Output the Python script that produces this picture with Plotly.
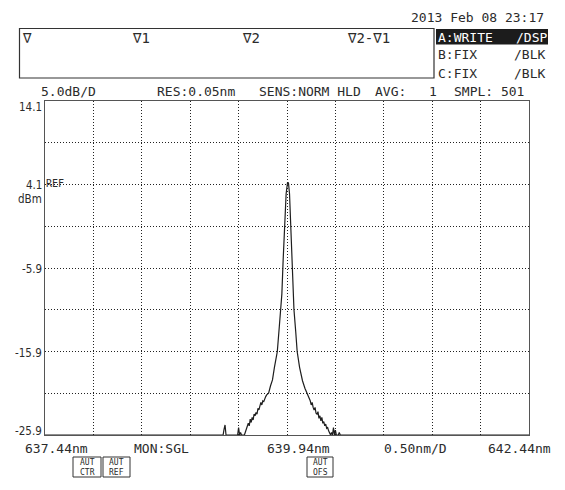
import plotly.graph_objects as go

# ---------------- data ----------------
wavelength_nm = [
    637.44, 639.28, 639.29, 639.30, 639.31, 639.43, 639.44, 639.45, 639.46, 639.47,
    639.50, 639.51, 639.52, 639.53, 639.54, 639.55, 639.56, 639.57, 639.58, 639.59,
    639.60, 639.61, 639.62, 639.63, 639.64, 639.65, 639.66, 639.67, 639.68, 639.69,
    639.70, 639.71, 639.72, 639.73, 639.75, 639.77, 639.79, 639.81, 639.83, 639.84,
    639.86, 639.873, 639.887, 639.90, 639.914, 639.921, 639.931, 639.945, 639.955, 639.966,
    639.973, 639.980, 639.993, 640.005, 640.012, 640.03, 640.045, 640.07, 640.10, 640.125,
    640.15, 640.17, 640.18, 640.19, 640.20, 640.21, 640.22, 640.23, 640.24, 640.25,
    640.26, 640.27, 640.28, 640.29, 640.30, 640.31, 640.32, 640.33, 640.34, 640.35,
    640.36, 640.37, 640.38, 640.39, 640.40, 640.41, 640.42, 640.43, 640.44, 640.45,
    640.47, 640.48, 640.49, 642.44,
]
power_dbm = [
    -25.9, -25.9, -25.2, -24.7, -25.9, -25.9, -25.0, -25.9, -25.6, -25.9,
    -25.9, -25.5, -25.2, -25.0, -24.5, -24.8, -24.0, -24.4, -23.8, -24.1,
    -23.4, -23.6, -23.2, -23.4, -22.7, -22.9, -22.4, -22.0, -22.3, -21.8,
    -21.9, -21.5, -21.3, -21.1, -20.9, -20.0, -19.3, -17.8, -16.5, -15.9,
    -13.0, -10.9, -9.0, -5.0, -1.0, 1.0, 3.0, 4.3, 4.3, 3.0,
    1.0, -1.0, -5.0, -9.0, -10.9, -13.5, -15.9, -17.8, -19.4, -20.3,
    -20.9, -21.5, -21.8, -22.3, -22.0, -22.6, -22.9, -22.6, -23.3, -23.4,
    -23.1, -23.9, -23.6, -24.2, -23.8, -24.5, -24.3, -24.8, -24.6, -25.1,
    -25.0, -25.4, -25.6, -25.9, -25.6, -25.9, -25.0, -25.9, -25.3, -25.9,
    -25.9, -25.6, -25.9, -25.9,
]

x_start, x_stop, x_div = 637.44, 642.44, 0.5
y_top, y_bottom, y_div = 14.1, -25.9, 5.0

y_label_values = [14.1, 4.1, -5.9, -15.9, -25.9]
y_label_texts = ["14.1", "4.1", "-5.9", "-15.9", "-25.9"]
x_label_texts = ["637.44nm", "639.94nm", "642.44nm"]

date_text = "2013 Feb 08 23:17"
marker_texts = ["∇", "∇1", "∇2", "∇2-∇1"]
header_texts = ["5.0dB/D", "RES:0.05nm", "SENS:NORM HLD", "AVG:", "1", "SMPL: 501"]
trace_texts = [("A:WRITE", "/DSP"), ("B:FIX", "/BLK"), ("C:FIX", "/BLK")]
footer_texts = ["MON:SGL", "0.50nm/D"]
button_texts = [("AUT", "CTR"), ("AUT", "REF"), ("AUT", "OFS")]

# ---------------- layout helpers (pixel -> paper) ----------------
W, H = 565, 490
ML, MR, MT, MB = 45, 36, 101, 55
PW, PH = W - ML - MR, H - MT - MB


def px(x):
    return (x - ML) / PW


def py(y):
    return (H - MB - y) / PH


MONO = "DejaVu Sans Mono, Liberation Mono, monospace"
NARROW = "Liberation Sans Narrow, DejaVu Sans Condensed, Liberation Sans, sans-serif"
INK = "#2b2b2b"

fig = go.Figure()
fig.add_trace(go.Scatter(
    x=wavelength_nm, y=power_dbm, mode="lines",
    line=dict(color="#1e1e1e", width=1.2), hoverinfo="skip", showlegend=False,
))

annotations = []
shapes = []


def text(x, y, s, anchor="left", size=13, family=MONO, color=INK):
    annotations.append(dict(
        x=px(x), y=py(y), xref="paper", yref="paper", text=s, showarrow=False,
        xanchor=anchor, yanchor="middle", font=dict(family=family, size=size, color=color),
        borderpad=0,
    ))


# date
text(545, 17, date_text, anchor="right")

# marker box
shapes.append(dict(type="rect", xref="paper", yref="paper",
                   x0=px(19.5), x1=px(434), y0=py(28.5), y1=py(78),
                   line=dict(color="#333", width=1.2)))
for xm, s in zip([21, 131, 241, 346], marker_texts):
    text(xm, 38, s, size=14)

# trace status panel
shapes.append(dict(type="rect", xref="paper", yref="paper",
                   x0=px(436), x1=px(548), y0=py(29), y1=py(44.5),
                   line=dict(width=0), fillcolor="#1c1c1c"))
for i, ((left_s, right_s), yy) in enumerate(zip(trace_texts, [37, 55, 73])):
    c = "white" if i == 0 else INK
    text(437, yy, left_s, color=c)
    text(548 if i == 0 else 546, yy, right_s, anchor="right", color=c)

# header line
for xh, s in zip([40, 156, 258, 374, 428, 453], header_texts):
    text(xh, 91, s)

# y labels
y_shifts = {14.1: -6, 4.1: -0.5, -5.9: -1, -15.9: -1, -25.9: 4}
for v, s in zip(y_label_values, y_label_texts):
    annotations.append(dict(
        x=px(43), y=v, xref="paper", yref="y", text=s, showarrow=False,
        xanchor="right", yanchor="middle", yshift=y_shifts[v],
        font=dict(family=NARROW, size=11.5, color=INK), borderpad=0,
    ))
text(43, 199, "dBm", anchor="right", family=NARROW, size=11.5)
text(45, 183, "REF", size=10)

# x labels
text(24, 448, x_label_texts[0])
text(266, 448, x_label_texts[1])
text(552, 448, x_label_texts[2], anchor="right")
text(133, 448, footer_texts[0])
text(383, 448, footer_texts[1])

# AUT buttons
for (x0, x1), (a, b) in zip([(73, 101), (103, 130), (307, 333)], button_texts):
    shapes.append(dict(type="rect", xref="paper", yref="paper",
                       x0=px(x0), x1=px(x1), y0=py(457), y1=py(477),
                       line=dict(color="#333", width=1)))
    xc = (x0 + x1) / 2
    text(xc, 467, a + "<br>" + b, anchor="center", size=8)

fig.update_layout(
    width=W, height=H,
    margin=dict(l=ML, r=MR, t=MT, b=MB, pad=0),
    paper_bgcolor="white", plot_bgcolor="white",
    showlegend=False,
    annotations=annotations, shapes=shapes,
    xaxis=dict(range=[x_start, x_stop], tick0=x_start, dtick=x_div,
               showticklabels=False, ticks="", showgrid=True,
               gridcolor="#222", gridwidth=1, griddash="1px,2px",
               showline=True, mirror=True, linecolor="#555", linewidth=1.3,
               zeroline=False, fixedrange=True),
    yaxis=dict(range=[y_bottom, y_top], tick0=y_bottom, dtick=y_div,
               showticklabels=False, ticks="", showgrid=True,
               gridcolor="#222", gridwidth=1, griddash="1px,2px",
               showline=True, mirror=True, linecolor="#555", linewidth=1.3,
               zeroline=False, fixedrange=True),
)

fig.write_html(
    "out.html",
    config={"displayModeBar": False, "staticPlot": True},
    post_script="document.body.style.margin='0';document.body.style.padding='0';",
)
